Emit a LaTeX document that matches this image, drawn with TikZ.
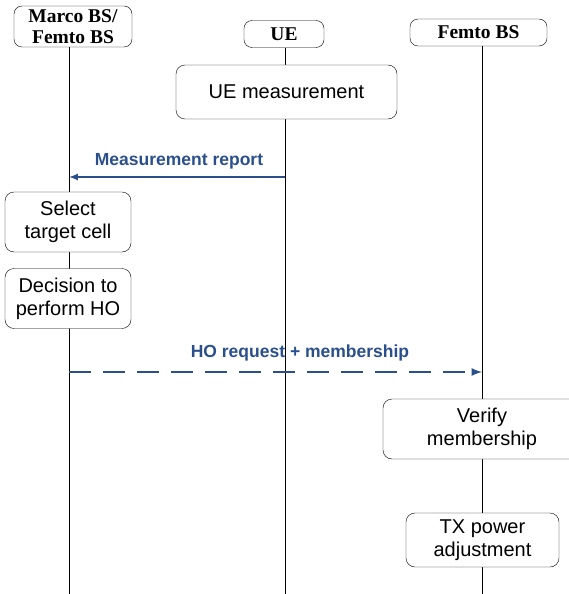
\documentclass[tikz,border=0pt]{standalone}
\usepackage{fontspec}
\setmainfont{Liberation Sans}
\newfontfamily\headfont{Liberation Serif}
\usepackage{tikz}
\usetikzlibrary{arrows,positioning}
\tikzset{>=latex}
\definecolor{msgblue}{RGB}{42,79,140}

\begin{document}
\begin{tikzpicture}[x=1pt,y=-1pt,
		head/.style={draw, rounded corners=8pt, fill=white, align=center, inner sep=0pt, font=\headfont\bfseries\fontsize{19.5}{21}\selectfont},
		act/.style={draw, rounded corners=9pt, fill=white, align=center, inner sep=0pt, font=\fontsize{20}{23}\selectfont},
		msg/.style={->, draw=msgblue, line width=2pt},
		lbl/.style={text=msgblue, font=\bfseries\fontsize{17.5}{20}\selectfont}]
		\useasboundingbox (0,0) rectangle (568,594);
		% heads
		\node[head, minimum width=118pt, minimum height=41pt] (macro) at (73,26.5) {Marco BS/\\Femto BS};
		\node[head, minimum width=80pt, minimum height=27pt] (ue) at (284,34) {UE};
		\node[head, minimum width=137pt, minimum height=27pt] (femto) at (478.5,32.5) {Femto BS};
		% lifelines
		\coordinate (macroend) at (69,594);
		\coordinate (ueend) at (285,594);
		\coordinate (femtoend) at (482,594);
		\draw[line width=1pt] (macro.south -| macroend) -- (macroend);
		\draw[line width=1pt] (ue.south -| ueend) -- (ueend);
		\draw[line width=1pt] (femto.south -| femtoend) -- (femtoend);
		% actions
		\node[act, minimum width=221pt, minimum height=54pt] (uemeas) at (286.5,92) {UE measurement};
		\node[act, minimum width=126pt, minimum height=60pt] (select) at (68,222) {Select\\target cell};
		\node[act, minimum width=126pt, minimum height=60pt] (decide) at (68,298.5) {Decision to\\perform HO};
		\node[act, minimum width=198pt, minimum height=60pt] (verify) at (482,429) {Verify\\membership};
		\node[act, minimum width=153pt, minimum height=54pt] (txpower) at (482.5,540) {TX power\\adjustment};
		% messages
		\coordinate (reportfrom) at (285,177);
		\coordinate (reportto) at (69,177);
		\coordinate (hofrom) at (69,372);
		\coordinate (hoto) at (482,372);
		\draw[msg] (reportfrom) -- (reportto);
		\node[lbl] (reportlbl) at (179,161) {Measurement report};
		\draw[msg, line width=2.5pt, dash pattern=on 22pt off 12pt] (hofrom) -- (hoto);
		\node[lbl] (holbl) at (300,353) {HO request + membership};
	\end{tikzpicture}
\end{document}
